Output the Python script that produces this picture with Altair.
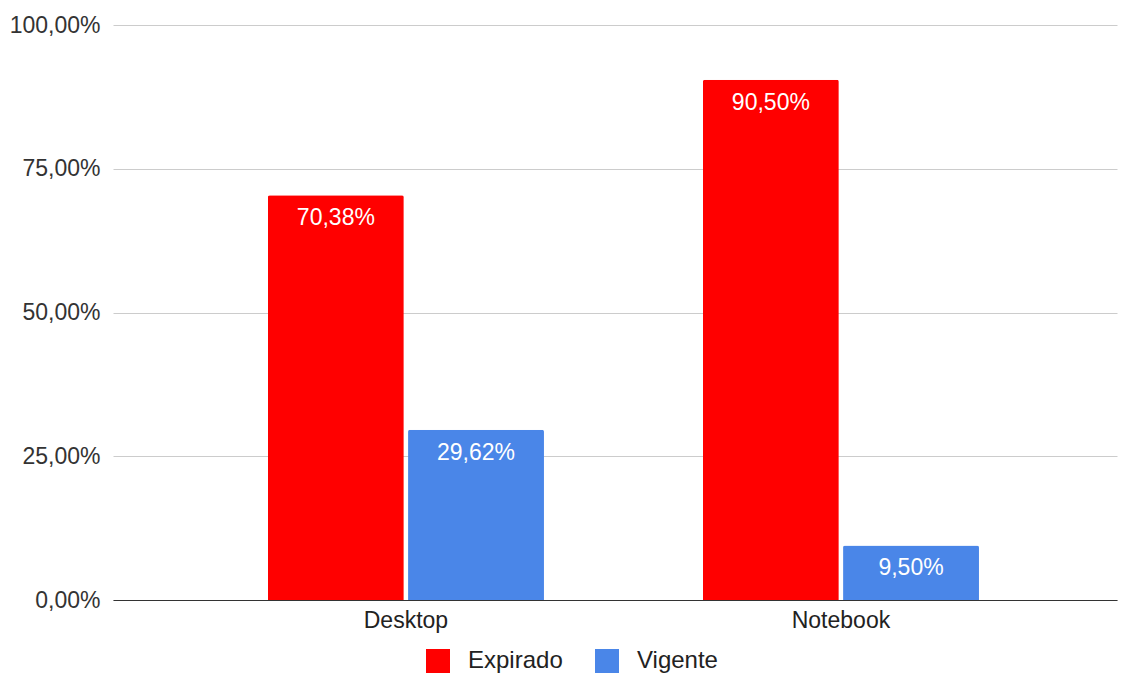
import altair as alt
import pandas as pd

categories = ["Desktop", "Desktop", "Notebook", "Notebook"]
series = ["Expirado", "Vigente", "Expirado", "Vigente"]
values = [70.38, 29.62, 90.50, 9.50]
y_ticks = [0, 25, 50, 75, 100]

df = pd.DataFrame({"cat": categories, "serie": series, "valor": values})

FONT = "Liberation Sans"
FS = 23
x = alt.X("cat:N", title=None,
          scale=alt.Scale(paddingInner=0, paddingOuter=0.154, align=0.563),
          axis=alt.Axis(labelAngle=0, labelFontSize=FS, labelColor="#222222",
                        labelFont=FONT, labelPadding=9, ticks=False,
                        domainColor="#333333", domainWidth=1.2))
xo = alt.XOffset("serie:N", scale=alt.Scale(paddingInner=0.03, paddingOuter=0.567))
y = alt.Y("valor:Q", title=None,
          scale=alt.Scale(domain=[0, 100], nice=False),
          axis=alt.Axis(values=y_ticks, labelExpr="replace(format(datum.value, '.2f'), '.', ',') + '%'",
                        labelFontSize=FS, labelColor="#333333", labelFont=FONT,
                        labelPadding=13, ticks=False, domain=False,
                        gridColor="#cccccc", gridWidth=1))
color = alt.Color("serie:N", scale=alt.Scale(domain=["Expirado", "Vigente"], range=["#ff0000", "#4a86e8"]),
                  legend=alt.Legend(title=None, orient="none", direction="horizontal",
                                    legendX=313, legendY=624, symbolType="square",
                                    symbolSize=576, symbolStrokeWidth=0, symbolOpacity=1,
                                    labelFontSize=24, labelFont=FONT, labelColor="#222222",
                                    columnPadding=32, labelOffset=18))

bars = alt.Chart(df).mark_bar(cornerRadiusTopLeft=2, cornerRadiusTopRight=2).encode(
    x=x, xOffset=xo, y=y, color=color)

text = alt.Chart(df).transform_calculate(
    lbl="replace(format(datum.valor, '.2f'), '.', ',') + '%'"
).mark_text(baseline="alphabetic", dy=30, color="white", fontSize=FS, font=FONT).encode(
    x=alt.X("cat:N"), xOffset=alt.XOffset("serie:N"), y=alt.Y("valor:Q"), text="lbl:N")

chart = alt.layer(bars, text).properties(
    width=1004, height=575,
    autosize=alt.AutoSizeParams(type="none"),
    padding={"left": 105, "top": 17, "right": 2, "bottom": 75},
).configure_view(stroke=None)

chart.save("out.html", embed_options={"renderer": "svg", "actions": False})
